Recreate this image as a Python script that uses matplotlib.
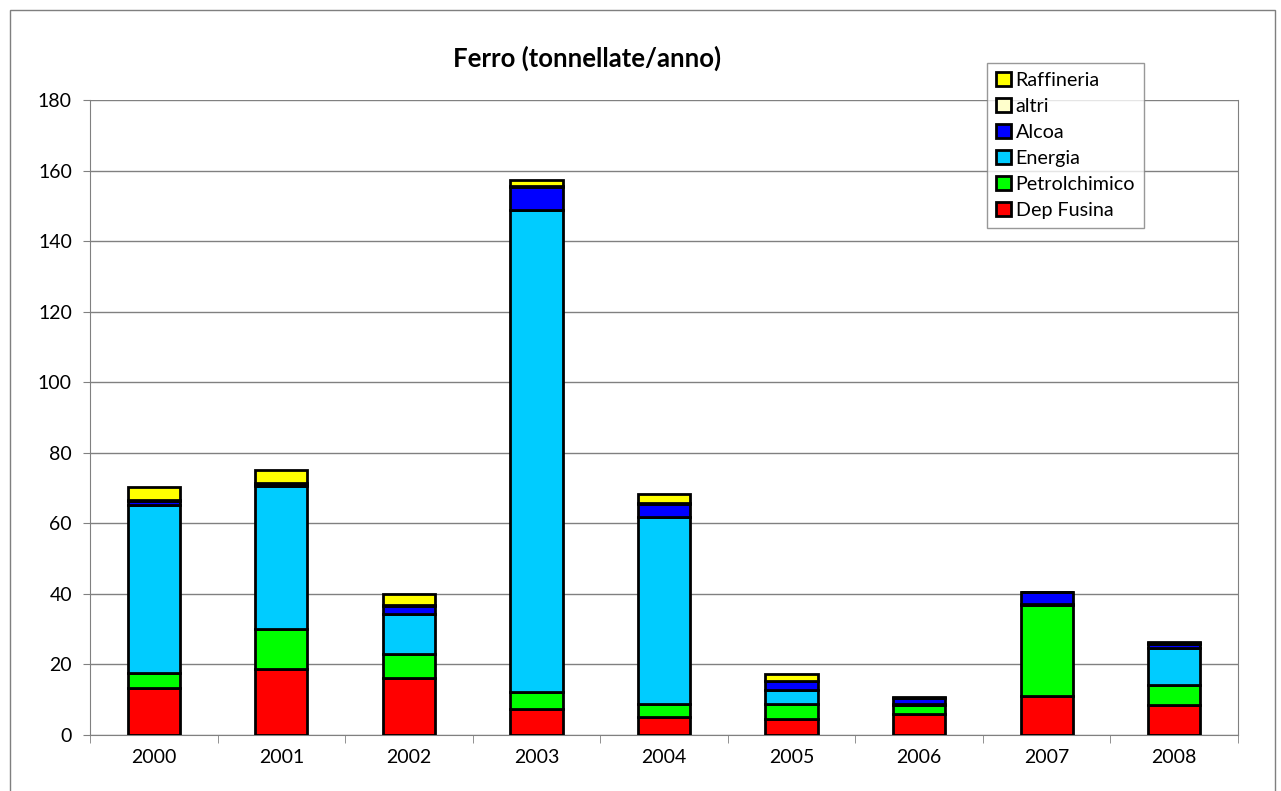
import numpy as np
import matplotlib.pyplot as plt
from matplotlib.patches import Rectangle

plt.rcParams['font.family'] = ['Lato', 'DejaVu Sans']

# data (tonnellate/anno)
years = ["2000", "2001", "2002", "2003", "2004", "2005", "2006", "2007", "2008"]
dep_fusina = [13.4, 18.8, 16.1, 7.4, 5.1, 4.5, 5.9, 11.0, 8.5]
petrolchimico = [4.1, 11.3, 6.8, 4.7, 3.7, 4.2, 2.5, 25.9, 5.6]
energia = [47.6, 40.6, 11.3, 136.8, 53.1, 4.0, 0.3, 0.2, 10.5]
alcoa = [1.2, 0.3, 2.4, 6.3, 3.6, 2.5, 1.7, 3.3, 1.2]
altri = [0.3, 0.3, 0.2, 0.3, 0.2, 0.2, 0.1, 0.1, 0.3]
raffineria = [3.8, 3.8, 3.1, 1.7, 2.7, 2.0, 0.2, 0.1, 0.3]

series = [
    ("Dep Fusina", dep_fusina, "#FF0000"),
    ("Petrolchimico", petrolchimico, "#00FF00"),
    ("Energia", energia, "#00CCFF"),
    ("Alcoa", alcoa, "#0000FF"),
    ("altri", altri, "#FFFFCC"),
    ("Raffineria", raffineria, "#FFFF00"),
]

fig = plt.figure(figsize=(12.81, 7.91), dpi=100)
ax = fig.add_axes([90/1281, 1 - 735/791, (1238-90)/1281, (735-100)/791])

# outer chart border
fig.patches.append(Rectangle((10/1281, -0.01), (1275-10)/1281, 1 - 10/791 + 0.01,
                             transform=fig.transFigure, fill=False,
                             edgecolor="#7f7f7f", linewidth=1))

x = np.arange(len(years))
bottom = np.zeros(len(years))
handles = []
for name, vals, col in series:
    b = ax.bar(x, vals, width=0.41, bottom=bottom, color=col,
               edgecolor="black", linewidth=2, label=name, zorder=3)
    handles.append(b)
    bottom += np.array(vals)

ax.set_xlim(-0.5, len(years) - 0.5)
ax.set_ylim(0, 180)
ax.set_yticks(np.arange(0, 181, 20))
ax.set_xticks(x)
ax.set_xticklabels(years)
ax.set_xticks(np.arange(-0.5, len(years), 1), minor=True)
ax.tick_params(axis="x", which="major", length=0, labelsize=14, pad=10)
ax.tick_params(axis="x", which="minor", length=6, color="#808080", direction="out")
ax.tick_params(axis="y", labelsize=14, length=5, color="#808080", pad=8)

ax.grid(axis="y", color="#808080", linewidth=1, zorder=0)
ax.spines["top"].set_visible(False)
ax.spines["right"].set_color("#808080")
ax.spines["left"].set_color("#808080")
ax.spines["bottom"].set_color("#808080")

fig.text(587/1281, 1 - 58/791, "Ferro (tonnellate/anno)", ha="center", va="center",
         fontsize=18.5, fontweight="bold")

leg = fig.legend(handles[::-1], [s[0] for s in series][::-1],
                 loc="upper left", bbox_to_anchor=(987/1281, 1 - 63/791),
                 borderaxespad=0,
                 fontsize=14.2, frameon=True, fancybox=False, edgecolor="#7f7f7f",
                 handlelength=0.75, handleheight=0.75, handletextpad=0.25,
                 labelspacing=0.45, borderpad=0.45)
leg.get_frame().set_linewidth(1)

fig.savefig("out.png", dpi=100)
